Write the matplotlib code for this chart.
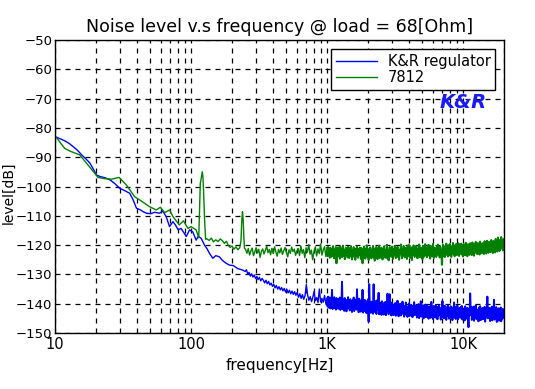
import numpy as np
import matplotlib
matplotlib.use('Agg')
import matplotlib.pyplot as plt
from matplotlib.ticker import FixedLocator, LogLocator, NullFormatter

# ---- data ----
# K&R regulator, 10 Hz .. 240 Hz
kr_lf_freq = [10, 10.3, 11.0, 11.8, 12.7, 13.6, 14.6, 15.7, 16.9, 18.05, 19.2, 20.2,
              21.5, 22.8, 23.9, 25.5, 27.5, 29.9, 32.5, 35.4, 37.5, 39.7, 42.5, 44.5,
              46.9, 50.5, 54.0, 58.7, 62.0, 65.7, 69.5, 73.6, 77.0, 80.5, 84.5, 89.3,
              92.2, 97.6, 103, 109, 113, 118.8, 122, 125.6, 131, 136.7, 144.6, 152,
              161.6, 170, 181, 191, 205, 220, 239]
kr_lf_level = [-83.0, -83.2, -83.8, -84.4, -85.3, -86.4, -87.6, -89.2, -90.6, -92.0, -94.2, -96.1,
               -96.6, -96.9, -97.2, -97.8, -99.0, -100.6, -101.4, -102.3, -104.5, -107.4, -108.0, -108.6,
               -109.1, -109.3, -108.8, -109.1, -108.4, -110.3, -113.7, -112.0, -113.2, -114.8, -114.3, -116.0,
               -117.1, -114.8, -115.5, -118.3, -117.0, -117.7, -118.8, -120.0, -121.2, -122.8, -124.5, -123.6,
               -124.0, -125.2, -126.2, -126.8, -127.0, -128.0, -128.5]

# K&R regulator, 250 Hz .. 980 Hz (log spaced)
kr_mid_level = [
    -129.0, -128.4, -129.9, -129.3, -130.6, -129.8, -130.9, -130.2, -131.4, -130.7,
    -131.8, -131.0, -132.2, -131.4, -132.0, -132.9, -132.0, -133.2, -132.4, -133.6,
    -133.0, -134.1, -133.4, -134.6, -133.8, -135.0, -134.2, -135.3, -134.5, -135.6,
    -134.8, -136.0, -135.1, -136.3, -135.4, -136.6, -135.7, -136.8, -135.9, -137.1,
    -136.2, -137.8, -136.6, -138.2, -136.9, -138.5, -137.3, -133.5, -137.1, -138.8,
    -137.6, -139.3, -137.8, -135.8, -139.0, -137.9, -139.6, -135.0, -139.4, -138.2,
    -139.5, -137.2, -140.0]

# K&R regulator, 1 kHz .. 20 kHz (log spaced)
kr_hf_level = [
    -138.2, -140.9, -137.6, -141.3, -139.0, -137.9, -141.6, -138.5, -140.7, -135.3,
    -141.8, -138.9, -140.2, -137.8, -141.5, -139.3, -142.0, -138.1, -140.6, -138.8,
    -141.7, -138.4, -140.9, -137.9, -142.1, -139.2, -141.0, -132.5, -141.9, -138.6,
    -140.3, -142.4, -138.1, -141.2, -139.5, -142.6, -138.7, -140.8, -137.8, -141.6,
    -139.0, -142.3, -138.5, -141.4, -139.7, -142.8, -138.9, -141.1, -137.9, -142.5,
    -139.4, -141.8, -138.6, -142.0, -135.1, -141.3, -139.1, -142.9, -138.3, -141.6,
    -139.6, -142.7, -138.8, -141.9, -135.3, -143.0, -139.2, -141.4, -138.7, -142.6,
    -140.0, -143.2, -139.1, -141.7, -138.5, -146.1, -133.4, -142.4, -139.8, -143.1,
    -139.3, -142.2, -140.4, -143.4, -133.4, -141.6, -139.0, -142.9, -140.6, -143.5,
    -138.9, -142.0, -140.2, -136.3, -143.6, -139.5, -141.8, -140.1, -143.8, -139.2,
    -142.5, -139.8, -143.7, -140.3, -142.1, -139.4, -143.9, -140.8, -142.6, -136.6,
    -141.5, -143.6, -139.7, -136.8, -142.8, -140.5, -144.0, -139.6, -142.3, -140.9,
    -143.9, -140.2, -142.7, -139.8, -144.1, -141.0, -143.2, -139.0, -142.5, -144.3,
    -140.6, -142.9, -140.0, -144.0, -141.3, -143.5, -139.3, -142.8, -140.7, -144.4,
    -141.1, -143.7, -139.6, -143.0, -140.9, -144.5, -141.5, -143.3, -139.9, -144.2,
    -141.2, -143.8, -140.4, -142.6, -144.6, -140.8, -143.4, -139.5, -143.9, -141.4,
    -143.6, -140.7, -144.7, -141.6, -143.1, -140.2, -144.9, -141.8, -142.9, -139.2,
    -144.4, -141.0, -143.7, -140.5, -145.0, -141.9, -143.2, -140.3, -144.6, -142.0,
    -140.6, -144.3, -141.7, -145.1, -140.9, -143.5, -142.2, -144.8, -139.4, -143.9,
    -141.3, -145.2, -140.8, -143.0, -141.9, -144.7, -140.4, -143.6, -142.4, -145.3,
    -141.0, -144.1, -140.6, -143.7, -142.0, -145.4, -141.4, -143.3, -139.1, -144.6,
    -141.8, -145.0, -140.7, -143.9, -142.3, -145.5, -141.2, -144.2, -140.5, -143.5,
    -145.1, -141.6, -143.8, -140.9, -144.9, -142.1, -145.6, -141.3, -143.4, -139.6,
    -144.7, -142.5, -145.2, -141.0, -143.6, -140.7, -145.3, -142.2, -144.0, -141.5,
    -144.8, -141.1, -143.9, -140.8, -145.4, -142.3, -144.3, -141.6, -145.7, -140.9,
    -143.7, -142.0, -145.1, -141.4, -144.5, -148.0, -141.8, -144.0, -136.5, -143.3,
    -141.2, -145.5, -142.4, -144.6, -141.0, -145.8, -142.7, -143.9, -140.6, -145.2,
    -141.9, -144.4, -142.8, -146.0, -141.3, -144.1, -140.9, -145.6, -142.2, -144.8,
    -141.5, -145.3, -142.6, -144.2, -141.1, -146.1, -142.0, -144.7, -140.8, -137.6,
    -145.0, -142.9, -144.5, -141.4, -145.9, -142.3, -144.0, -141.0, -145.7, -142.8,
    -144.6, -138.7, -145.4, -142.1, -144.3, -141.2, -146.2, -142.5, -144.9, -141.6,
    -145.8, -142.7, -144.2, -141.3, -146.0, -142.4, -145.1, -141.8, -144.7, -142.9]

# 7812, 10 Hz .. 247 Hz
r7812_lf_freq = [10, 10.3, 11.0, 11.8, 13.0, 15.2, 17.1, 19.6, 20.7, 23.0, 26, 29.6,
                 33.5, 38.5, 42, 49.6, 55.5, 59.5, 64, 69.6, 73.7, 82, 88, 94.9,
                 100, 109, 114, 117, 119.5, 121, 122.5, 124, 126, 128, 130, 136,
                 141, 146, 152, 158, 164, 170, 176, 182, 188, 194, 200, 207,
                 214, 221, 228, 233, 236, 239, 242, 244.5, 247]
r7812_lf_level = [-83.0, -83.4, -85.2, -87.0, -88.0, -89.2, -92.1, -95.5, -96.9, -97.3, -97.5, -96.9,
                  -99.5, -103.5, -104.6, -106.9, -108.0, -107.1, -108.9, -108.0, -110.3, -113.1, -111.7, -114.3,
                  -113.7, -114.8, -117.5, -99.0, -96.5, -95.0, -97.0, -103.0, -112.0, -118.0, -117.8, -118.4,
                  -117.6, -118.9, -118.2, -118.8, -117.9, -118.5, -119.4, -118.7, -120.1, -120.8, -120.3, -121.4,
                  -120.6, -121.6, -120.9, -118.5, -112.0, -108.6, -111.5, -117.0, -121.0]

# 7812, 252 Hz .. 980 Hz (log spaced)
r7812_mid_level = [
    -121.5, -122.8, -121.2, -123.4, -122.0, -121.0, -123.6, -122.3, -120.9, -122.7,
    -121.4, -124.2, -122.1, -121.3, -123.0, -121.8, -120.4, -122.6, -121.5, -123.3,
    -121.1, -122.9, -120.6, -122.3, -123.8, -121.5, -122.7, -121.0, -123.2, -121.9,
    -120.8, -122.5, -124.0, -121.6, -122.8, -120.7, -122.2, -121.4, -123.5, -122.0,
    -121.2, -123.6, -120.3, -122.8, -121.5, -124.3, -120.9, -122.4, -119.8, -123.1,
    -121.7, -125.0, -122.2, -120.6, -123.7, -121.3, -122.9, -119.6, -123.4, -121.8,
    -120.5, -123.9]

# 7812, 1 kHz .. 20 kHz (log spaced)
r7812_hf_level = [
    -121.0, -123.8, -120.6, -123.2, -121.7, -124.3, -120.9, -122.6, -124.0, -121.2,
    -123.5, -120.4, -122.9, -124.5, -121.5, -123.0, -120.7, -126.2, -122.1, -123.9,
    -120.8, -123.4, -121.9, -124.6, -120.5, -122.8, -121.3, -124.1, -122.4, -120.2,
    -123.7, -121.6, -124.8, -122.0, -120.9, -123.3, -121.4, -124.2, -120.6, -122.7,
    -124.4, -121.1, -123.6, -120.3, -122.5, -124.9, -121.8, -123.1, -120.7, -124.0,
    -122.3, -125.0, -121.2, -123.8, -120.4, -122.6, -124.3, -121.5, -123.4, -120.9,
    -122.8, -124.7, -121.0, -123.5, -126.2, -121.7, -123.9, -120.5, -122.4, -124.6,
    -121.3, -123.2, -120.1, -124.1, -122.0, -125.1, -121.4, -123.7, -120.8, -122.9,
    -124.5, -121.6, -123.0, -120.3, -124.2, -122.2, -125.3, -121.1, -123.6, -120.6,
    -122.7, -124.8, -121.4, -123.3, -120.2, -124.4, -122.1, -123.8, -120.9, -122.5,
    -124.9, -121.2, -123.4, -120.4, -122.8, -124.3, -121.7, -123.1, -119.9, -124.6,
    -121.9, -125.2, -122.3, -120.7, -123.7, -121.5, -124.0, -120.5, -122.6, -124.7,
    -121.3, -123.5, -120.2, -122.9, -124.4, -121.0, -123.2, -120.6, -124.1, -122.4,
    -125.0, -121.6, -123.0, -119.8, -122.7, -124.5, -121.4, -123.6, -120.3, -122.2,
    -124.2, -120.9, -123.3, -121.8, -124.7, -120.5, -122.6, -119.9, -123.9, -121.5,
    -124.3, -120.7, -122.8, -125.1, -121.2, -123.4, -120.1, -122.5, -124.0, -121.0,
    -123.1, -120.4, -122.9, -124.5, -121.3, -123.7, -119.8, -122.3, -124.2, -120.8,
    -123.0, -121.6, -124.8, -120.2, -122.7, -123.9, -121.1, -119.7, -123.5, -121.9,
    -124.1, -120.6, -122.4, -119.9, -123.6, -121.4, -124.6, -120.3, -122.8, -121.0,
    -123.9, -119.6, -122.5, -124.3, -120.9, -123.2, -121.7, -124.0, -120.4, -122.6,
    -119.8, -123.4, -121.2, -124.2, -120.5, -122.9, -121.6, -126.7, -122.1, -119.9,
    -123.7, -121.0, -124.1, -120.3, -122.4, -119.5, -123.3, -121.5, -123.9, -120.2,
    -122.7, -119.7, -123.6, -121.1, -124.0, -120.4, -122.2, -119.3, -123.1, -121.8,
    -123.8, -120.0, -122.5, -119.6, -123.4, -120.9, -122.8, -119.4, -123.7, -121.3,
    -120.1, -122.9, -119.5, -123.2, -121.0, -123.9, -119.8, -122.3, -120.6, -123.5,
    -119.2, -122.6, -120.8, -123.8, -119.7, -122.0, -120.3, -123.3, -119.4, -122.4,
    -120.9, -123.4, -119.1, -122.2, -120.5, -123.6, -119.6, -121.8, -118.9, -122.7,
    -120.2, -123.1, -119.3, -122.5, -120.7, -123.2, -118.8, -121.9, -120.0, -122.8,
    -119.4, -122.3, -120.6, -123.0, -118.7, -121.7, -119.9, -122.9, -118.5, -121.5,
    -120.3, -122.6, -118.9, -121.9, -119.5, -122.4, -118.3, -121.2, -120.1, -122.7,
    -118.6, -121.4, -119.7, -122.5, -117.9, -121.0, -119.2, -122.2, -117.4, -120.8,
    -119.9, -122.0, -118.2, -121.3, -117.3, -120.5, -119.0, -121.8, -118.0, -120.7]

kr_hf_freq = np.geomspace(1000, 20000, len(kr_hf_level))
r7812_hf_freq = np.geomspace(1000, 20000, len(r7812_hf_level))
kr_freq = np.concatenate([kr_lf_freq, np.geomspace(250, 980, len(kr_mid_level)), kr_hf_freq])
kr_level = np.concatenate([kr_lf_level, kr_mid_level, kr_hf_level])
r7812_freq = np.concatenate([r7812_lf_freq, np.geomspace(252, 980, len(r7812_mid_level)), r7812_hf_freq])
r7812_level = np.concatenate([r7812_lf_level, r7812_mid_level, r7812_hf_level])

x_ticks = [10, 100, 1000, 10000]
x_labels = ['10', '100', '1K', '10K']
y_ticks = list(range(-150, -49, 10))

fig = plt.figure(figsize=(5.35, 3.89), dpi=100)
ax = fig.add_axes([55/535, 1-333/389, 449/535, 293/389])

ax.plot(kr_freq, kr_level, color='#0000ff', lw=1.0, label='K&R regulator')
ax.plot(kr_hf_freq, kr_hf_level, color='#0000ff', lw=1.4)
ax.plot(r7812_freq, r7812_level, color='#008000', lw=1.0, label='7812')
ax.plot(r7812_hf_freq, r7812_hf_level, color='#008000', lw=1.4)

ax.set_xscale('log')
ax.set_xlim(10, 20000)
ax.set_ylim(-150, -50)
ax.xaxis.set_major_locator(FixedLocator(x_ticks))
ax.set_xticklabels(x_labels)
ax.xaxis.set_minor_locator(LogLocator(base=10, subs=range(2, 10)))
ax.xaxis.set_minor_formatter(NullFormatter())
ax.set_yticks(y_ticks)
ax.tick_params(which='both', length=0, labelsize=10.5, colors='black', pad=3)
ax.tick_params(axis='y', labelsize=9.5, pad=2)
ax.grid(True, which='both', axis='x', color='black', linestyle=(0, (4, 4)), lw=0.9)
ax.grid(True, which='major', axis='y', color='black', linestyle=(0, (4, 4)), lw=0.9)
for s in ax.spines.values():
    s.set_linewidth(1)

ax.set_title('Noise level v.s frequency @ load = 68[Ohm]', fontsize=12.5, pad=6)
ax.set_xlabel('frequency[Hz]', fontsize=11, labelpad=4)
ax.set_ylabel('level[dB]', fontsize=10)
ax.yaxis.set_label_coords(-0.088, 0.48)

leg = ax.legend(loc='upper right', bbox_to_anchor=(0.981, 0.968), fontsize=10.5,
                fancybox=False, framealpha=1, edgecolor='black', handlelength=2.8,
                borderpad=0.3, labelspacing=0.1, borderaxespad=0)
leg.get_frame().set_linewidth(1)
for l in leg.get_lines():
    l.set_linewidth(1)

ax.text(0.909, 0.787, 'K&R', transform=ax.transAxes, color='#1a1aff', fontsize=14,
        fontweight='bold', fontstyle='italic', ha='center', va='center')

fig.savefig('out.png', dpi=100)
